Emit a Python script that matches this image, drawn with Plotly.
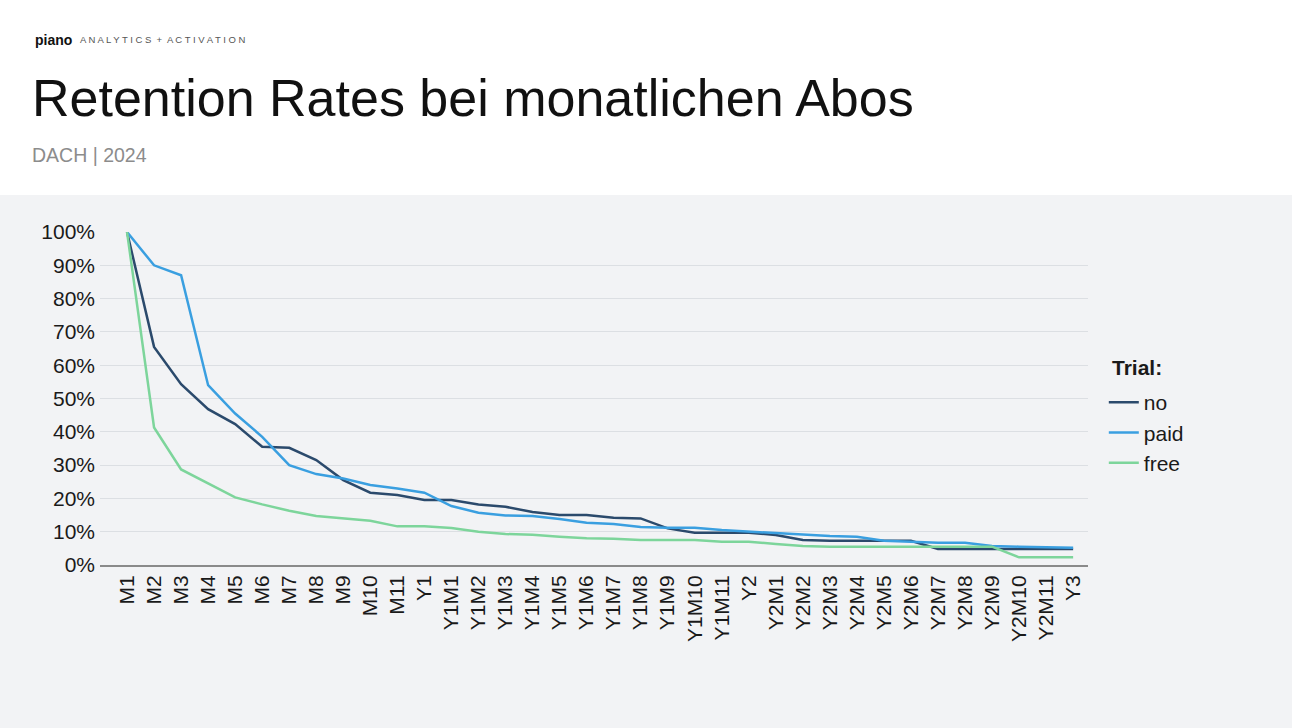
import plotly.graph_objects as go

categories = (["M%d" % i for i in range(1, 12)] + ["Y1"] +
              ["Y1M%d" % i for i in range(1, 12)] + ["Y2"] +
              ["Y2M%d" % i for i in range(1, 12)] + ["Y3"])

no_trial = [100, 65.5, 54.3, 46.8, 42.3, 35.5, 35.2, 31.5, 25.5, 21.7, 21, 19.5,
            19.5, 18.2, 17.5, 15.9, 15, 15, 14.2, 14, 11, 9.7, 9.7, 9.7,
            9, 7.5, 7.3, 7.3, 7.3, 7.3, 4.8, 4.8, 5, 5, 5, 4.8]
paid_trial = [100, 90, 87, 54, 45.5, 38.5, 30, 27.3, 26, 24, 23, 21.7,
              17.7, 15.7, 14.9, 14.7, 13.8, 12.7, 12.3, 11.4, 11.2, 11.2, 10.5, 10,
              9.5, 9.2, 8.7, 8.5, 7.3, 7, 6.7, 6.7, 5.7, 5.5, 5.3, 5.2]
free_trial = [100, 41.3, 28.7, 24.5, 20.3, 18.2, 16.3, 14.7, 14, 13.3, 11.6, 11.6,
              11.1, 10, 9.3, 9.1, 8.5, 8, 7.9, 7.5, 7.5, 7.5, 7, 7,
              6.3, 5.7, 5.5, 5.5, 5.5, 5.5, 5.5, 5.5, 5.5, 2.3, 2.3, 2.3]

series = [("no", no_trial, "#2b4a6c"),
          ("paid", paid_trial, "#3a9fe0"),
          ("free", free_trial, "#7dd59b")]

FONT = "Arial, Liberation Sans, sans-serif"

fig = go.Figure()
for name, vals, color in series:
    fig.add_trace(go.Scatter(
        x=categories, y=[v / 100 for v in vals], name=name, mode="lines",
        line=dict(color=color, width=2.5), cliponaxis=False))

fig.update_layout(
    width=1292, height=728,
    margin=dict(l=100, r=204, t=232, b=163),
    paper_bgcolor="#f2f3f5", plot_bgcolor="rgba(0,0,0,0)",
    font=dict(family=FONT, size=21, color="#1a1a1a"),
    showlegend=True,
    legend=dict(
        x=1.016, xanchor="left", y=0.5495, yanchor="top",
        bgcolor="rgba(0,0,0,0)", font=dict(size=21, color="#1a1a1a"),
        itemwidth=30, tracegroupgap=0),
    xaxis=dict(
        type="category", range=[-1, 35.55], tickangle=-90,
        showgrid=False, showline=True, linecolor="#8a8a8a", linewidth=2,
        ticks="", tickfont=dict(size=21, color="#1a1a1a"), fixedrange=True),
    yaxis=dict(
        range=[0, 1.0], tickvals=[i / 10 for i in range(11)],
        tickformat=".0%", showgrid=True, gridcolor="#dcdfe3", gridwidth=1,
        zeroline=False, showline=False, ticks="", ticklabelstandoff=4,
        tickfont=dict(size=21, color="#1a1a1a"), fixedrange=True),
    shapes=[dict(type="rect", xref="paper", yref="paper",
                 x0=-0.2, x1=1.3, y0=(565 - 195) / 333, y1=1.8,
                 fillcolor="white", line=dict(width=0), layer="below")],
    annotations=[
        dict(xref="paper", yref="paper", x=-67 / 988, y=(565 - 40) / 333,
             xanchor="left", yanchor="middle", showarrow=False,
             text="<b>piano</b>", font=dict(family=FONT, size=14, color="#111111")),
        dict(xref="paper", yref="paper", x=-22 / 988, y=(565 - 40) / 333,
             xanchor="left", yanchor="middle", showarrow=False,
             text="A N A L Y T I C S  +  A C T I V A T I O N",
             font=dict(family=FONT, size=9.5, color="#555555")),
        dict(xref="paper", yref="paper", x=-70 / 988, y=(565 - 98) / 333,
             xanchor="left", yanchor="middle", showarrow=False,
             text="Retention Rates bei monatlichen Abos",
             font=dict(family=FONT, size=52, color="#111111")),
        dict(xref="paper", yref="paper", x=-70 / 988, y=(565 - 155) / 333,
             xanchor="left", yanchor="middle", showarrow=False,
             text="DACH | 2024",
             font=dict(family=FONT, size=19.5, color="#8c8c8c")),
        dict(xref="paper", yref="paper", x=(1110 - 100) / 988, y=(565 - 367) / 333,
             xanchor="left", yanchor="middle", showarrow=False,
             text="<b>Trial:</b>",
             font=dict(family=FONT, size=21, color="#1a1a1a")),
    ],
)

fig.write_html("out.html", post_script="document.body.style.margin='0';",
               config={"displayModeBar": False})
